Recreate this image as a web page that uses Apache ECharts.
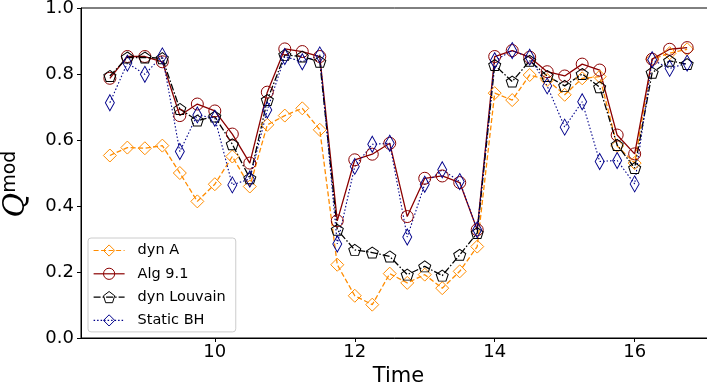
<!DOCTYPE html>
<html>
<head>
<meta charset="utf-8">
<script src="https://cdn.jsdelivr.net/npm/echarts@6/dist/echarts.min.js"></script>
<style>
html,body{margin:0;padding:0;background:#fff;}
#chart{width:707px;height:392px;}
</style>
</head>
<body>
<div id="chart"></div>
<script>
const times = [8.5,8.75,9.0,9.25,9.5,9.75,10.0,10.25,10.5,10.75,11.0,11.25,11.5,11.75,12.0,12.25,12.5,12.75,13.0,13.25,13.5,13.75,14.0,14.25,14.5,14.75,15.0,15.25,15.5,15.75,16.0,16.25,16.5,16.75];
const dynA = [0.553,0.577,0.575,0.583,0.500,0.414,0.466,0.550,0.459,0.646,0.674,0.696,0.631,0.222,0.128,0.101,0.195,0.167,0.192,0.151,0.202,0.277,0.742,0.721,0.797,0.782,0.737,0.787,0.792,0.582,0.530,0.845,0.863,0.875];
const alg91 = [0.787,0.853,0.853,0.837,0.674,0.709,0.688,0.618,0.530,0.745,0.876,0.868,0.853,0.355,0.540,0.557,0.590,0.368,0.484,0.491,0.471,0.328,0.853,0.871,0.851,0.807,0.794,0.830,0.812,0.615,0.558,0.845,0.875,0.880];
const dynLouvain = [0.794,0.850,0.850,0.848,0.694,0.659,0.671,0.587,0.484,0.721,0.858,0.853,0.837,0.328,0.267,0.259,0.247,0.192,0.217,0.189,0.252,0.318,0.827,0.777,0.840,0.794,0.764,0.800,0.760,0.585,0.515,0.804,0.840,0.830];
const staticBH = [0.713,0.833,0.799,0.855,0.565,0.676,0.666,0.464,0.482,0.691,0.853,0.837,0.858,0.285,0.520,0.587,0.590,0.306,0.466,0.510,0.474,0.328,0.840,0.871,0.851,0.764,0.639,0.716,0.535,0.538,0.467,0.843,0.817,0.833];
const xTicks = [10,12,14,16];
const yTicks = [0.0,0.2,0.4,0.6,0.8,1.0];
const seriesNames = ['dyn A','Alg 9.1','dyn Louvain','Static BH'];

const pentagon = 'path://M0,-1 L0.951,-0.309 L0.588,0.809 L-0.588,0.809 L-0.951,-0.309 Z';
function pairs(vals){ return times.map((t,i)=>[t, vals[i]]); }
function mk(name, vals, color, dash, symbol, size, width){
  return {
    name: name, type: 'line', data: pairs(vals),
    symbol: symbol, symbolSize: size, showAllSymbol: true,
    lineStyle: {color: color, width: width, type: dash},
    itemStyle: {color: 'rgba(0,0,0,0)', borderColor: color, borderWidth: 1},
    emphasis: {disabled: true}, animation: false, z: 2
  };
}
const chart = echarts.init(document.getElementById('chart'), null, {renderer: 'canvas'});
chart.setOption({
  animation: false,
  grid: {left: 81, top: 8, right: -9, bottom: 54, outerBoundsMode: 'none', containLabel: false,
         show: true, borderColor: '#000', borderWidth: 1, backgroundColor: 'rgba(0,0,0,0)'},
  xAxis: {
    type: 'value', min: 8.0875, max: 17.1625,
    name: 'Time', nameLocation: 'middle', nameGap: 26,
    nameTextStyle: {fontFamily: 'DejaVu Sans', fontSize: 21, color: '#000'},
    axisLine: {lineStyle: {color: '#000', width: 1}},
    axisTick: {show: true, inside: false, length: 4, lineStyle: {color: '#000'}, customValues: xTicks},
    axisLabel: {fontFamily: 'DejaVu Sans', fontSize: 18, color: '#000', margin: 5, customValues: xTicks},
    splitLine: {show: false}
  },
  yAxis: {
    type: 'value', min: 0, max: 1, interval: 0.2,
    name: '{q|Q}{m|mod}', nameLocation: 'middle', nameRotate: 90, nameGap: 50,
    nameTextStyle: {
      color: '#000', padding: [0, 22, 0, 0],
      rich: {
        q: {fontFamily: 'DejaVu Serif', fontStyle: 'italic', fontSize: 30, color: '#000', verticalAlign: 'bottom', lineHeight: 30},
        m: {fontFamily: 'DejaVu Sans', fontSize: 19, color: '#000', verticalAlign: 'top', lineHeight: 30}
      }
    },
    axisLine: {show: true, lineStyle: {color: '#000', width: 1}},
    axisTick: {show: true, inside: false, length: 4, lineStyle: {color: '#000'}},
    axisLabel: {fontFamily: 'DejaVu Sans', fontSize: 18, color: '#000', margin: 7, formatter: v => v.toFixed(1)},
    splitLine: {show: false}
  },
  legend: {
    data: seriesNames, orient: 'vertical', left: 88, top: 238,
    padding: [5, 10, 4, 5], itemGap: 8.3, itemWidth: 31, itemHeight: 14,
    backgroundColor: 'rgba(255,255,255,0.8)', borderColor: '#ccc', borderWidth: 1, borderRadius: 3,
    lineStyle: {width: 1.2}, itemStyle: {borderWidth: 1},
    textStyle: {fontFamily: 'DejaVu Sans', fontSize: 14.5, color: '#000', padding: [0, 0, 0, 8]}
  },
  series: [
    mk(seriesNames[0], dynA, '#FF8C00', [5, 2.5], 'diamond', [13, 13], 1.3),
    mk(seriesNames[1], alg91, '#8B0000', 'solid', 'circle', 12, 1.3),
    mk(seriesNames[2], dynLouvain, '#000000', [7, 2, 1.5, 2], pentagon, [12, 11], 1.3),
    mk(seriesNames[3], staticBH, '#00008B', [1.5, 2], 'diamond', [9, 16], 1.1)
  ]
});
</script>
</body>
</html>
